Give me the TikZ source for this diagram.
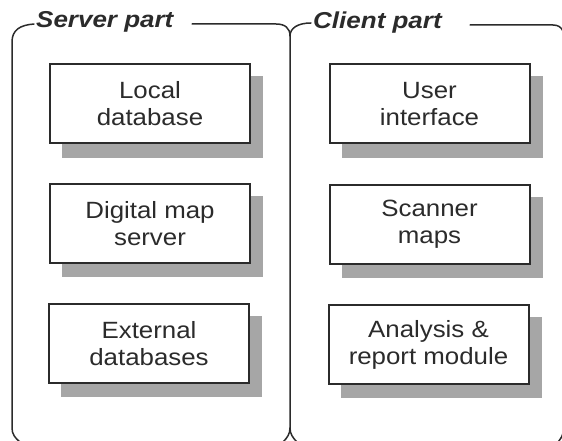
\documentclass[tikz,border=0pt]{standalone}
\usepackage{fontspec}
\setmainfont{Liberation Sans}
\newfontfamily\boxfont[FakeStretch=1.1]{Liberation Sans}
\newfontfamily\titlefont[FakeStretch=1.13]{Liberation Sans}
\usetikzlibrary{backgrounds}
\definecolor{ink}{HTML}{2B2B2B}
\tikzset{
  frameline/.style={draw=ink, line width=1.5pt, line cap=round},
  blockbox/.style={draw=ink, line width=2pt, fill=white, text=ink,
    minimum width=200pt, minimum height=79pt, align=center, inner sep=0pt,
    font=\boxfont\fontsize{23.5}{27}\selectfont},
  boxshadow/.style={fill=black!35},
  parttitle/.style={anchor=base west, inner sep=0pt, text=ink,
    font=\titlefont\fontsize{23}{27}\selectfont\bfseries\itshape},
}
\begin{document}
\begin{tikzpicture}[x=1pt, y=-1pt]
\useasboundingbox (0,0) rectangle (562,441);

% module boxes
\node[blockbox] (local)   at (150,104)   {Local\\database};
\node[blockbox] (mapsrv)  at (150,223.5) {Digital map\\server};
\node[blockbox] (extdb)   at (149,343.5) {External\\databases};
\node[blockbox] (ui)      at (429.5,104)   {User\\interface};
\node[blockbox] (scanner) at (429.5,224)   {Scanner\\maps};
\node[blockbox] (report)  at (428.5,344.5) {Analysis \&\\report module};

% drop shadows behind the boxes
\begin{scope}[on background layer]
  \foreach \b in {local,mapsrv,extdb,ui,scanner,report}
    \fill[boxshadow] ([shift={(13,13)}]\b.north west) rectangle ([shift={(12,13)}]\b.south east);
\end{scope}

% part titles
\node[parttitle] (server) at (36,28) {Server part};
\node[parttitle] (client) at (313,29) {Client part};

% left frame
\draw[frameline] (34,24) .. controls (20,25) and (12,30) .. (12,42)
  -- (12,428) .. controls (12,434) and (15,438) .. (20,442);
% shared divider with brace-like ends
\draw[frameline] (192,24) -- (276,24) .. controls (285,24) and (290,28) .. (290,36)
  -- (290,428) .. controls (290,434) and (287,438) .. (283,442);
\draw[frameline] (311,23) .. controls (298,23) and (290,28) .. (290,36);
\draw[frameline] (290,428) .. controls (290,434) and (293,438) .. (297,442);
% right frame
\draw[frameline] (470,25) -- (553,25) .. controls (558,25) and (561,27) .. (563,31);
\draw[frameline] (563,433) .. controls (562,437) and (560,440) .. (557,443);
\end{tikzpicture}
\end{document}
